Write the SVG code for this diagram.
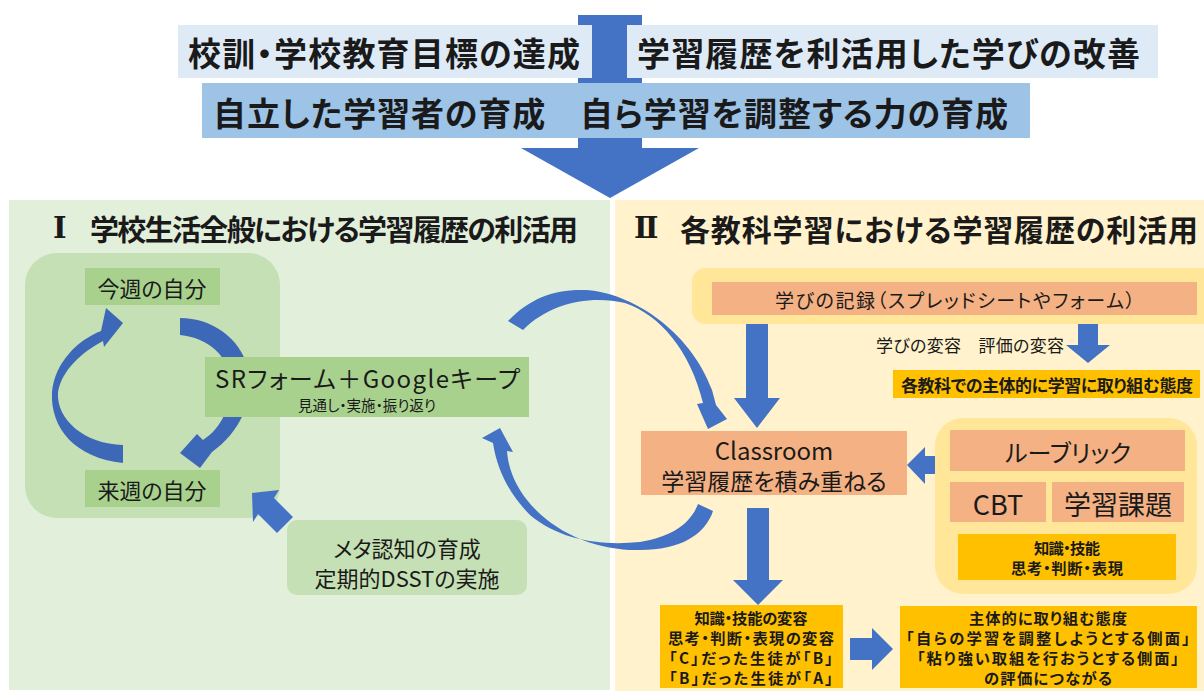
<svg xmlns="http://www.w3.org/2000/svg" width="1204" height="691" viewBox="0 0 1204 691">
<style>
text{font-family:"Noto Sans CJK JP","Noto Sans",sans-serif;fill:#1a1a1a;dominant-baseline:central;font-feature-settings:"palt"}
.b{font-weight:700}
.c{text-anchor:middle}
.arrow{fill:#4472C4}
.salmon{fill:#F4B183}
.gold{fill:#FFC000}
.lgreen{fill:#A9D18E}
.mgreen{fill:#C5E0B4}
.lyellow{fill:#FFE699}
.roman{font-family:"DejaVu Serif","Liberation Serif",serif;font-weight:700}
.g{font-weight:700;text-anchor:middle;font-size:15.3px}
</style>
<rect width="1204" height="691" fill="#ffffff"/>

<g id="panels">
<rect x="9" y="200" width="601" height="490" fill="#E2EFDA"/>
<rect x="615" y="200" width="589" height="491" fill="#FFF2CC"/>
</g>

<g id="top-arrow">
<path class="arrow" d="M578,15 H642 V148 H699 L610,198 L521,148 H578 Z"/>
</g>
<g id="goal-school">
<rect x="178" y="25" width="414" height="53" fill="#DEEBF7"/>
<text class="b" x="188" y="52" font-size="33" textLength="392" lengthAdjust="spacing">校訓・学校教育目標の達成</text>
</g>
<g id="goal-history">
<rect x="627" y="25" width="531" height="53" fill="#DEEBF7"/>
<text class="b" x="637" y="52" font-size="33" textLength="503" lengthAdjust="spacing">学習履歴を利活用した学びの改善</text>
</g>
<g id="goal-learner">
<rect x="202" y="83" width="828" height="55" fill="#9DC3E6"/>
<text class="b" x="213" y="112" font-size="33" textLength="795" lengthAdjust="spacing">自立した学習者の育成　自ら学習を調整する力の育成</text>
</g>

<g id="heading-1">
<text class="roman" x="53" y="228" font-size="29">Ⅰ</text>
<text class="b" x="90" y="228" font-size="29" textLength="488" lengthAdjust="spacing">学校生活全般における学習履歴の利活用</text>
</g>
<g id="heading-2">
<text class="roman" x="634" y="228" font-size="29">Ⅱ</text>
<text class="b" x="680" y="228" font-size="30" textLength="518" lengthAdjust="spacing">各教科学習における学習履歴の利活用</text>
</g>

<g id="cycle-container">
<rect class="mgreen" x="25" y="253" width="255" height="265" rx="32"/>
</g>

<g id="connectors">
<path fill="#3D68B8" d="M123,463 C75,458 50,428 52,392 C55,362 78,340 101,331 L106,308 L123,323 L104,347 L103,341 C82,352 62,370 58,392 C56,420 85,444 123,445 Z"/>
<path fill="#3D68B8" d="M180,318 C212,318 240,338 248,368 C255,400 240,432 212,452 L200,468 L180,453 L197,434 L203,440 C222,428 232,405 230,380 C228,355 208,338 180,335 Z"/>
<path class="arrow" d="M252,493 L279,490 L274,498 L293,517 L277,533 L258,514 L253,522 Z"/>
<path class="arrow" d="M508,321 C530,298 555,289 585,290 C630,292 690,330 712,390 L716,405 L727,419 L708,429 L697,404 L703,403 C690,350 660,315 625,303 C590,295 550,303 523,330 Z"/>
<path class="arrow" d="M698,504 L713,511 C705,535 680,550 640,550 C600,551 555,535 527,500 C515,485 508,467 507,451 L513,452 L500,428 L482,438 L493,443 C497,470 510,495 530,515 C560,540 600,546 640,542 C670,537 690,525 698,504 Z"/>
<path class="arrow" d="M746,318 H768 V398 H780 L757,428 L734,398 H746 Z"/>
<path class="arrow" d="M1078,320 H1098 V345 H1110 L1088,363 L1066,345 H1078 Z"/>
<path class="arrow" d="M936,456 V474 H925 V484 L907,465 L925,447 V456 Z"/>
<path class="arrow" d="M747,508 H769 V580 H783 L758,605 L733,580 H747 Z"/>
<path class="arrow" d="M850,638 H872 V628 L893,649 L872,670 V660 H850 Z"/>
</g>

<g id="this-week">
<rect class="lgreen" x="85" y="268" width="135" height="37"/>
<text class="c" x="152" y="287" font-size="22">今週の自分</text>
</g>
<g id="next-week">
<rect class="lgreen" x="85" y="470" width="135" height="37"/>
<text class="c" x="152" y="489" font-size="22">来週の自分</text>
</g>
<g id="sr-form">
<rect class="lgreen" x="205" y="357" width="324" height="60"/>
<text x="215" y="377" font-size="24" textLength="305" lengthAdjust="spacing">SRフォーム＋Googleキープ</text>
<text class="c" x="367" y="404" font-size="14.5">見通し・実施・振り返り</text>
</g>
<g id="metacognition">
<rect class="mgreen" x="287" y="520" width="240" height="75" rx="10"/>
<text class="c" x="407" y="547" font-size="22">メタ認知の育成</text>
<text class="c" x="407" y="577" font-size="22">定期的DSSTの実施</text>
</g>

<g id="record">
<rect class="lyellow" x="692" y="268" width="540" height="56" rx="14"/>
<rect class="salmon" x="712" y="282" width="485" height="33"/>
<text x="775" y="299" font-size="19" textLength="360" lengthAdjust="spacing">学びの記録（スプレッドシートやフォーム）</text>
</g>
<g id="change-label">
<text x="876" y="344" font-size="17" textLength="188" lengthAdjust="spacing">学びの変容　評価の変容</text>
</g>
<g id="subject-attitude">
<rect class="gold" x="893" y="370" width="307" height="28"/>
<text class="b c" x="1047" y="384" font-size="17" textLength="292" lengthAdjust="spacing">各教科での主体的に学習に取り組む態度</text>
</g>
<g id="classroom">
<rect class="salmon" x="641" y="431" width="266" height="64"/>
<text class="c" x="774" y="449" font-size="24">Classroom</text>
<text class="c" x="774" y="480" font-size="23">学習履歴を積み重ねる</text>
</g>
<g id="assessment">
<rect class="lyellow" x="935" y="418" width="262" height="176" rx="28"/>
<rect class="salmon" x="950" y="430" width="235" height="41"/>
<text class="c" x="1068" y="451" font-size="24">ルーブリック</text>
<rect class="salmon" x="950" y="482" width="96" height="40"/>
<text class="c" x="998" y="503" font-size="27">CBT</text>
<rect class="salmon" x="1052" y="482" width="132" height="40"/>
<text class="c" x="1118" y="503" font-size="27">学習課題</text>
<rect class="gold" x="958" y="534" width="218" height="46"/>
<text class="g" x="1067" y="547" textLength="66" lengthAdjust="spacing">知識・技能</text>
<text class="g" x="1067" y="567" textLength="112" lengthAdjust="spacing">思考・判断・表現</text>
</g>
<g id="skill-change">
<rect class="gold" x="660" y="605" width="183" height="83"/>
<text class="g" x="751" y="617" textLength="113" lengthAdjust="spacing">知識・技能の変容</text>
<text class="g" x="751" y="637" textLength="166" lengthAdjust="spacing">思考・判断・表現の変容</text>
<text class="g" x="751" y="657" textLength="164" lengthAdjust="spacing">「C」だった生徒が「B」</text>
<text class="g" x="751" y="677" textLength="164" lengthAdjust="spacing">「B」だった生徒が「A」</text>
</g>
<g id="attitude-eval">
<rect class="gold" x="900" y="606" width="297" height="82"/>
<text class="g" x="1048" y="617" textLength="158" lengthAdjust="spacing">主体的に取り組む態度</text>
<text class="g" x="1048" y="637" textLength="284" lengthAdjust="spacing">「自らの学習を調整しようとする側面」</text>
<text class="g" x="1048" y="657" textLength="262" lengthAdjust="spacing">「粘り強い取組を行おうとする側面」</text>
<text class="g" x="1048" y="677" textLength="128" lengthAdjust="spacing">の評価につながる</text>
</g>
</svg>
